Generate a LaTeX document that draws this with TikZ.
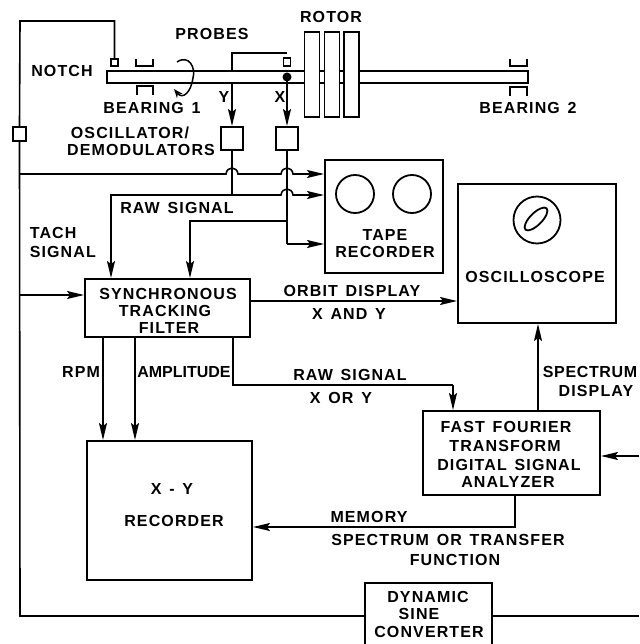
\documentclass[tikz,border=0pt]{standalone}
\usepackage{fontspec}
\setmainfont[LetterSpace=7,WordSpace=1.4]{Liberation Sans}
\usetikzlibrary{arrows.meta,shapes.geometric}
\tikzset{
  x=1pt,y=-1pt,
  every path/.style={line width=1.6pt,line join=miter},
  arr/.style={-{Stealth[length=17pt,width=8pt,inset=3pt]}},
  blockbox/.style={draw,line width=2pt,rectangle,inner sep=0pt,fill=white},
  disc/.style={draw,line width=1.7pt,rectangle,inner sep=0pt,fill=white,minimum width=15pt,minimum height=85pt},
  lbl/.style={inner sep=0pt,font=\fontsize{16}{18}\selectfont\bfseries,align=center},
  lbll/.style={lbl,anchor=west},
  lens/.style={draw,line width=1.8pt,circle,inner sep=0pt},
  sensor/.style={draw,line width=1.6pt,rectangle,inner sep=0pt},
}
\begin{document}
\begin{tikzpicture}
\useasboundingbox (0,0) rectangle (639,644);
% shaft and rotor
\node[draw,line width=1.7pt,rectangle,inner sep=0pt,minimum width=421pt,minimum height=12pt] (shaft) at (317.5,77) {};
\node[disc] (d1) at (312,74.5) {};
\node[disc] (d2) at (332,74.5) {};
\node[disc] (d3) at (351.5,74.5) {};
% bearings
\draw (136,59) -- (136,66) -- (153,66) -- (153,59);
\draw (137,95) -- (137,86) -- (153,86) -- (153,95);
\draw (510,59) -- (510,66) -- (527,66) -- (527,59);
\draw (510,96) -- (510,87) -- (527,87) -- (527,96);
% rotation arrow
\draw[-{Stealth[length=9pt,width=7pt]},line width=1.5pt] (177,62) .. controls (189,54) and (196,68) .. (193,78) .. controls (191,92) and (183,100) .. (174,89);
% sensors
\node[sensor,minimum width=7pt,minimum height=7pt] (notchs) at (114.5,62.5) {};
\node[sensor,minimum width=7pt,minimum height=8pt] (xs) at (287,62) {};
\node[circle,fill=black,inner sep=0pt,minimum size=9pt] (dot) at (287,77) {};
% small boxes
\node[blockbox,minimum width=13pt,minimum height=14pt,line width=1.8pt] (split) at (19.5,134) {};
\node[blockbox,minimum width=22pt,minimum height=23pt] (ybox) at (232,138.5) {};
\node[blockbox,minimum width=22pt,minimum height=23pt] (xbox) at (287,138.5) {};
% big boxes
\node[blockbox,minimum width=118pt,minimum height=113pt] (tape) at (384,216.5) {};
\node[blockbox,minimum width=158pt,minimum height=139pt] (scope) at (537,253.5) {};
\node[blockbox,minimum width=165pt,minimum height=58pt] (filter) at (167.5,308) {};
\node[blockbox,minimum width=165pt,minimum height=139pt] (xy) at (169.5,510.5) {};
\node[blockbox,minimum width=177pt,minimum height=84pt] (fft) at (511.5,453) {};
\node[blockbox,minimum width=127pt,minimum height=70pt] (dsc) at (428.5,618) {};
\node[lens,minimum size=38pt] (reel1) at (355,194) {};
\node[lens,minimum size=38pt] (reel2) at (412,194) {};
\node[lens,minimum size=47pt] (crt) at (537,220) {};
\node[draw,line width=1.8pt,ellipse,rotate=45,inner sep=0pt,minimum width=30pt,minimum height=12pt] (trace) at (536,219) {};
% free ends and taps
\coordinate (topl) at (20,21);
\coordinate (topr) at (114.5,21);
\coordinate (botl) at (20,616);
\coordinate (tachj) at (20,174);
\coordinate (tachf) at (20,295);
\coordinate (rawl) at (111,195);
\coordinate (rawj) at (232,195);
\coordinate (rawx) at (287,221);
\coordinate (rawm) at (190,221);
\coordinate (tapex) at (287,244);
\coordinate (probej) at (232,53);
\coordinate (probek) at (287,53);
\coordinate (rpm) at (103,337);
\coordinate (amp) at (135,337);
\coordinate (rawf) at (233,385);
\coordinate (rawe) at (453,385);
\coordinate (spec) at (538,411);
\coordinate (mem) at (515,527);
\coordinate (fftin) at (639,456);
\coordinate (dscout) at (639,616);
% wiring
\draw (notchs.north) -- (topr) -- (topl) -- (split.north);
\draw (split.south) -- (botl) -- (dsc.west |- botl);
\draw (dsc.east |- dscout) -- (dscout);
\draw (232,71) -- (probej) -- (probek);
\draw[arr] (232,83) -- (ybox.north);
\draw[arr] (287,81) -- (xbox.north);
% tach line with hops
\draw (tachj) -- (226,174) .. controls (227,166) and (237,166) .. (238,174) -- (281,174) .. controls (282,166) and (292,166) .. (293,174) -- (305,174);
\draw[arr] (305,174) -- (tape.west |- 0,174);
\draw (ybox.south) -- (rawj);
\draw[arr] (rawj) -- (rawl) -- (rawl |- filter.north);
\draw (rawj) -- (281,195) .. controls (282,187) and (292,187) .. (293,195) -- (305,195);
\draw[arr] (305,195) -- (tape.west |- 0,195);
\draw (xbox.south) -- (tapex);
\draw[arr] (rawx) -- (rawm) -- (rawm |- filter.north);
\draw[arr] (tapex) -- (tape.west |- tapex);
\draw[arr] (tachf) -- (filter.west |- tachf);
\draw[arr] (filter.east |- 0,301) -- (scope.west |- 0,301);
\draw[arr] (rpm |- filter.south) -- (rpm |- xy.north);
\draw[arr] (amp |- filter.south) -- (amp |- xy.north);
\draw (rawf |- filter.south) -- (rawf) -- (rawe);
\draw[arr] (rawe) -- (rawe |- fft.north);
\draw[arr] (spec |- fft.north) -- (spec |- scope.south);
\draw[arr] (fftin) -- (fft.east |- fftin);
\draw[arr] (mem |- fft.south) -- (mem) -- (xy.east |- mem);
% labels
\node[lbl] (t1) at (62,71) {NOTCH};
\node[lbl] (t2) at (212,34) {PROBES};
\node[lbl] (t3) at (331,17) {ROTOR};
\node[lbl] (t4) at (152,108) {BEARING 1};
\node[lbl] (t5) at (528,108) {BEARING 2};
\node[lbl] (t6) at (130,133) {OSCILLATOR/};
\node[lbl] (t7) at (141,150) {DEMODULATORS};
\node[lbl] (t8) at (224,97) {Y};
\node[lbl] (t9) at (280,97) {X};
\node[lbl] (t10) at (177,208) {RAW SIGNAL};
\node[lbll] (t11) at (29,233) {TACH};
\node[lbll] (t12) at (29,252) {SIGNAL};
\node[lbl] (t13) at (168,294) {SYNCHRONOUS};
\node[lbl] (t14) at (165,311) {TRACKING};
\node[lbl] (t15) at (169,328) {FILTER};
\node[lbl] (t16) at (385,235) {TAPE};
\node[lbl] (t17) at (385,252) {RECORDER};
\node[lbl] (t18) at (535,277) {OSCILLOSCOPE};
\node[lbl] (t19) at (352,291) {ORBIT DISPLAY};
\node[lbl] (t20) at (349,314) {X AND Y};
\node[lbl] (t21) at (81,372) {RPM};
\node[lbl,font=\fontsize{16}{18}\selectfont\bfseries\addfontfeature{LetterSpace=0}] (t22) at (184,372) {AMPLITUDE};
\node[lbl] (t23) at (350,375) {RAW SIGNAL};
\node[lbl] (t24) at (341,398) {X OR Y};
\node[lbl,font=\fontsize{16}{18}\selectfont\bfseries\addfontfeature{LetterSpace=4}] (t25) at (590,372) {SPECTRUM};
\node[lbl] (t26) at (596,391) {DISPLAY};
\node[lbl] (t27) at (506,427) {FAST FOURIER};
\node[lbl] (t28) at (505,446) {TRANSFORM};
\node[lbl] (t29) at (509,465) {DIGITAL SIGNAL};
\node[lbl] (t30) at (508,482) {ANALYZER};
\node[lbl] (t31) at (369,517) {MEMORY};
\node[lbl] (t32) at (448,540) {SPECTRUM OR TRANSFER};
\node[lbl] (t33) at (455,560) {FUNCTION};
\node[lbl] (t34) at (172,489) {X - Y};
\node[lbl] (t35) at (174,521) {RECORDER};
\node[lbl] (t36) at (428,597) {DYNAMIC};
\node[lbl] (t37) at (419,614) {SINE};
\node[lbl] (t38) at (429,632) {CONVERTER};
\end{tikzpicture}
\end{document}
